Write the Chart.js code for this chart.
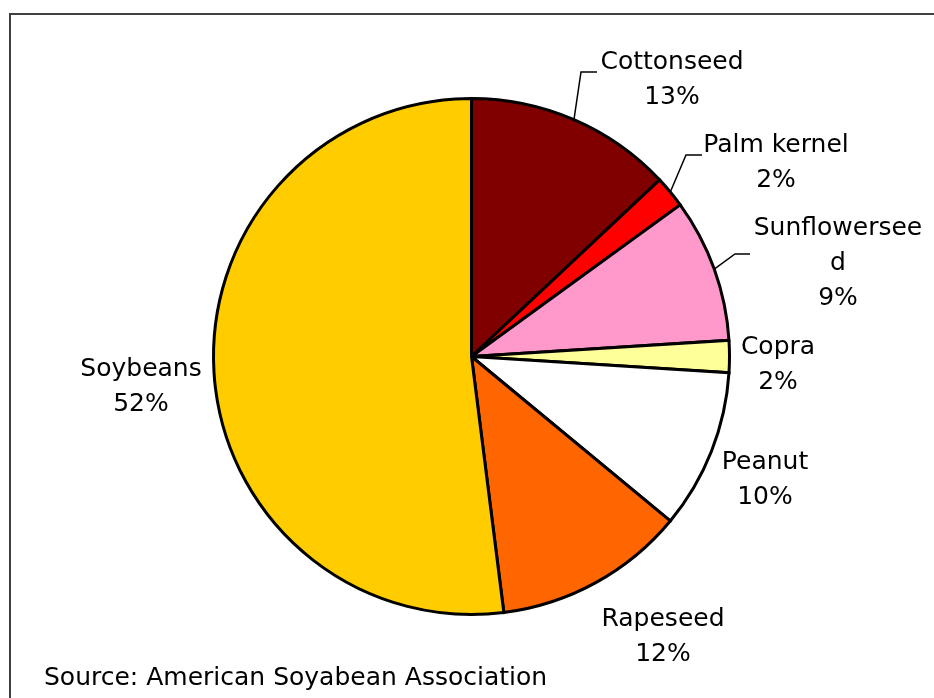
<!DOCTYPE html>
<html>
<head>
<meta charset="utf-8">
<script src="https://cdn.jsdelivr.net/npm/chart.js@4/dist/chart.umd.min.js"></script>
<style>
html,body{margin:0;padding:0;background:#fff;}
#wrap{position:relative;width:934px;height:698px;}
</style>
</head>
<body>
<div id="wrap"><canvas id="pie" width="934" height="698"></canvas></div>
<script>
// oilseed shares of world production, % (clockwise from 12 o'clock)
const crops=["Cottonseed","Palm kernel","Sunflowerseed","Copra","Peanut","Rapeseed","Soybeans"];
const shares=[13,2,9,2,10,12,52];
const colors=["#800000","#FF0000","#FF99CC","#FFFF99","#FFFFFF","#FF6600","#FFCC00"];
const sourceNote="Source: American Soyabean Association";

// label text lines, centre x and first baseline for each slice
const labelLines=[["Cottonseed"],["Palm kernel"],["Sunflowersee","d"],["Copra"],["Peanut"],["Rapeseed"],["Soybeans"]];
const labelX=[672,776,838,778,765,663,141];
const labelY=[69,152,235,354,469,626,376];
// elbow of the leader line (x,y,end x) for slices that need one
const leaders={0:[581,72,597],1:[686,155,702],2:[735,254,750]};

const FONT="25px 'DejaVu Sans', Verdana, sans-serif";
const LH=35;

const framePlugin={
id:"frame",
beforeDraw(chart){
let c=chart.ctx;
c.save();
c.fillStyle="#fff";
c.fillRect(0,0,chart.width,chart.height);
c.strokeStyle="#404040";
c.lineWidth=2;
c.beginPath();
c.moveTo(10,chart.height);
c.lineTo(10,14);
c.lineTo(chart.width,14);
c.stroke();
c.restore();
}
};

const labelPlugin={
id:"sliceLabels",
afterDraw(chart){
let c=chart.ctx;
let arcs=chart.getDatasetMeta(0).data;
c.save();
c.font=FONT;
c.fillStyle="#000";
c.textAlign="center";
c.textBaseline="alphabetic";

arcs.forEach((arc,i)=>{
let lines=labelLines[i].concat([shares[i]+"%"]);
lines.forEach((t,k)=>{
c.fillText(t,labelX[i],labelY[i]+k*LH);
});

let ld=leaders[i];
if(ld){
let p=arc.getProps(["x","y","startAngle","endAngle","outerRadius"],true);
let mid=(p.startAngle+p.endAngle)/2;
let sx=p.x+Math.cos(mid)*p.outerRadius;
let sy=p.y+Math.sin(mid)*p.outerRadius;
c.strokeStyle="#000";
c.lineWidth=1.5;
c.beginPath();
c.moveTo(sx,sy);
c.lineTo(ld[0],ld[1]);
c.lineTo(ld[2],ld[1]);
c.stroke();
}
});

c.textAlign="left";
c.fillText(sourceNote,44,685);
c.restore();
}
};

new Chart(document.getElementById("pie"),{
type:"pie",
data:{
labels:crops,
datasets:[{
data:shares,
backgroundColor:colors,
borderColor:"#000",
borderWidth:3,
borderJoinStyle:"miter"
}]
},
options:{
responsive:false,
animation:false,
layout:{padding:{left:212,right:203,top:97,bottom:82}},
plugins:{
legend:{display:false},
tooltip:{enabled:false}
}
},
plugins:[framePlugin,labelPlugin]
});
</script>
</body>
</html>
